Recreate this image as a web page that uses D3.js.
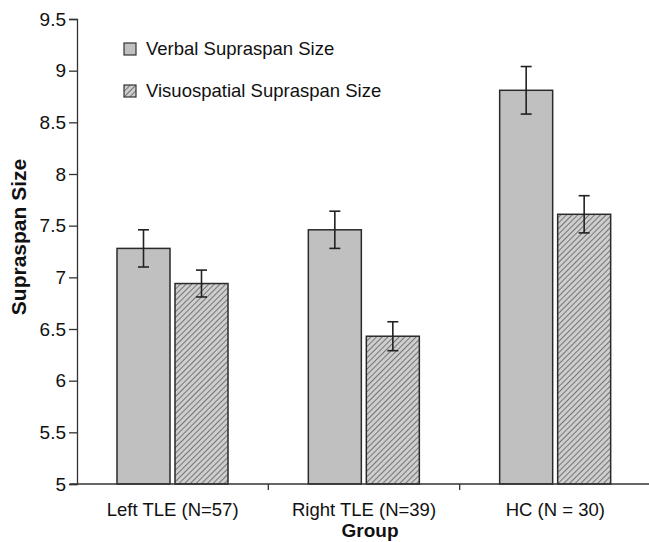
<!DOCTYPE html>
<html>
<head>
<meta charset="utf-8">
<script src="https://cdn.jsdelivr.net/npm/d3@7"></script>
<style>
body { margin: 0; background: #fff; }
text { font-family: "Liberation Sans", Arial, sans-serif; fill: #111; }
</style>
</head>
<body>
<script>
var w = 649;
var h = 542;

var groups = ["Left TLE (N=57)", "Right TLE (N=39)", "HC (N = 30)"];
var series = ["Verbal Supraspan Size", "Visuospatial Supraspan Size"];
var verbal = [7.28, 7.46, 8.81];
var verbalErr = [0.18, 0.18, 0.23];
var visuo = [6.94, 6.43, 7.61];
var visuoErr = [0.13, 0.14, 0.18];
var yTicks = [5, 5.5, 6, 6.5, 7, 7.5, 8, 8.5, 9, 9.5];

var svg = d3.select("body")
    .append("svg")
        .attr("width", w)
        .attr("height", h);

var defs = svg.append("defs");
var pat = defs.append("pattern")
    .attr("id", "hatch")
    .attr("patternUnits", "userSpaceOnUse")
    .attr("width", 4)
    .attr("height", 4)
    .attr("patternTransform", "rotate(45)");
pat.append("rect").attr("width", 4).attr("height", 4).attr("fill", "#cecece");
pat.append("line")
    .attr("x1", 0).attr("y1", 0).attr("x2", 0).attr("y2", 4)
    .attr("stroke", "#5e5e5e").attr("stroke-width", 1.6);

var x0 = d3.scaleBand().domain(groups).range([77, 651]);
var x1 = d3.scaleBand().domain(series).range([40, 151]).paddingInner(5 / 58);
var y = d3.scaleLinear().domain([5, 9.5]).range([484, 19]);

var fills = ["#c0c0c0", "url(#hatch)"];

var rows = groups.map(function(g, i) {
    return [
        {g: g, s: series[0], v: verbal[i], e: verbalErr[i]},
        {g: g, s: series[1], v: visuo[i], e: visuoErr[i]}
    ];
});
var flat = [].concat.apply([], rows);

// bars
svg.selectAll("rect.bar")
    .data(flat)
    .enter()
    .append("rect")
        .attr("class", "bar")
        .attr("x", function(d) { return x0(d.g) + x1(d.s); })
        .attr("y", function(d) { return y(d.v); })
        .attr("width", x1.bandwidth())
        .attr("height", function(d) { return y(5) - y(d.v); })
        .attr("fill", function(d) { return fills[series.indexOf(d.s)]; })
        .attr("stroke", "#2a2a2a")
        .attr("stroke-width", 1.5);

// error bars
var eb = svg.selectAll("g.err")
    .data(flat)
    .enter()
    .append("g")
        .attr("class", "err")
        .attr("stroke", "#222")
        .attr("stroke-width", 1.6);
var cx = function(d) { return x0(d.g) + x1(d.s) + x1.bandwidth() / 2; };
eb.append("line")
    .attr("x1", cx).attr("x2", cx)
    .attr("y1", function(d) { return y(d.v + d.e); })
    .attr("y2", function(d) { return y(d.v - d.e); });
eb.append("line")
    .attr("x1", function(d) { return cx(d) - 5.5; })
    .attr("x2", function(d) { return cx(d) + 5.5; })
    .attr("y1", function(d) { return y(d.v + d.e); })
    .attr("y2", function(d) { return y(d.v + d.e); });
eb.append("line")
    .attr("x1", function(d) { return cx(d) - 5.5; })
    .attr("x2", function(d) { return cx(d) + 5.5; })
    .attr("y1", function(d) { return y(d.v - d.e); })
    .attr("y2", function(d) { return y(d.v - d.e); });

// y axis
var yAxis = svg.append("g")
    .attr("transform", "translate(77,0)")
    .call(d3.axisLeft(y).tickValues(yTicks).tickSize(8).tickPadding(3).tickFormat(d3.format("")));
yAxis.select(".domain").attr("stroke", "#333").attr("stroke-width", 1.3);
yAxis.selectAll(".tick line").attr("stroke", "#333").attr("stroke-width", 1.3);
yAxis.selectAll(".tick text").attr("font-size", 19).attr("fill", "#111");

// x axis
var xAxis = svg.append("g")
    .attr("transform", "translate(0,484)");
xAxis.append("line")
    .attr("x1", 70).attr("x2", 651)
    .attr("y1", 0).attr("y2", 0)
    .attr("stroke", "#333").attr("stroke-width", 1.3);
xAxis.selectAll("line.tk")
    .data(groups.slice(1))
    .enter()
    .append("line")
        .attr("class", "tk")
        .attr("x1", function(d) { return x0(d); })
        .attr("x2", function(d) { return x0(d); })
        .attr("y1", 0).attr("y2", 6)
        .attr("stroke", "#333").attr("stroke-width", 1.3);
xAxis.selectAll("text")
    .data(groups)
    .enter()
    .append("text")
        .attr("x", function(d) { return x0(d) + x0.bandwidth() / 2; })
        .attr("y", 32)
        .attr("text-anchor", "middle")
        .attr("font-size", 18.5)
        .text(function(d) { return d; });

// axis titles
svg.append("text")
    .attr("x", 370).attr("y", 537)
    .attr("text-anchor", "middle")
    .attr("font-size", 19).attr("font-weight", "bold")
    .text("Group");
svg.append("text")
    .attr("transform", "translate(26,237) rotate(-90)")
    .attr("text-anchor", "middle")
    .attr("font-size", 21).attr("font-weight", "bold")
    .text("Supraspan Size");

// legend
var leg = svg.selectAll("g.leg")
    .data(series)
    .enter()
    .append("g")
        .attr("class", "leg")
        .attr("transform", function(d, i) { return "translate(124," + (43 + i * 42) + ")"; });
leg.append("rect")
    .attr("width", 12).attr("height", 12)
    .attr("fill", function(d, i) { return fills[i]; })
    .attr("stroke", "#333").attr("stroke-width", 1.2);
leg.append("text")
    .attr("x", 22).attr("y", 11.5)
    .attr("font-size", 18.5)
    .text(function(d) { return d; });
</script>
</body>
</html>
